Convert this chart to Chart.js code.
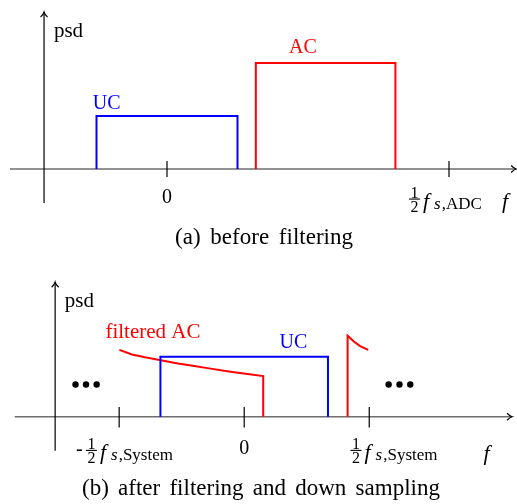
<!DOCTYPE html>
<html>
<head>
<meta charset="utf-8">
<script src="https://cdn.jsdelivr.net/npm/chart.js@4.4.1/dist/chart.umd.min.js"></script>
<style>
  html, body { margin: 0; padding: 0; background: #fff; }
  #wrap { position: relative; width: 517px; height: 504px; }
  canvas { position: absolute; left: 0; }
</style>
</head>
<body>
<div id="wrap">
  <canvas id="before" width="517" height="250" style="top:0"></canvas>
  <canvas id="after" width="517" height="254" style="top:250px"></canvas>
</div>
<script>
// x is in units of fs/2, y in units of the UC level

// (a) before filtering
const ucBeforeX = [-0.25, -0.25, 0.25, 0.25];
const ucBeforeY = [0, 1, 1, 0];
const acBeforeX = [0.315, 0.315, 0.81, 0.81];
const acBeforeY = [0, 2, 2, 0];
const ticksBefore = [0, 1];
const tickLabelsBefore = ["0", "1/2 f_s,ADC"];

// (b) after filtering and down sampling
const ucAfterX = [-0.67, -0.67, 0.67, 0.67];
const ucAfterY = [0, 1, 1, 0];
const acAfterX = [-0.998, -0.898, -0.793, -0.667, -0.53, -0.399, -0.268, -0.136, -0.005, 0.152, 0.152];
const acAfterY = [1.113, 1.037, 0.989, 0.941, 0.887, 0.844, 0.801, 0.758, 0.721, 0.677, 0];
const aliasX = [0.827, 0.827, 0.848, 0.874, 0.927, 0.992];
const aliasY = [0, 1.35, 1.31, 1.258, 1.177, 1.113];
const dotsX = [-1.349, -1.265, -1.18, 1.155, 1.242, 1.328];
const dotsY = [0.537, 0.537, 0.537, 0.537, 0.537, 0.537];
const ticksAfter = [-1, 0, 1];
const tickLabelsAfter = ["-1/2 f_s,System", "0", "1/2 f_s,System"];

const SERIF = '"Liberation Serif", "Times New Roman", serif';
const BLUE = "#0000ff";
const RED = "#ff0000";

function toPoints(xs, ys) {
    return xs.map((x, i) => ({ x: x, y: ys[i] }));
}

function lineSet(xs, ys, color) {
    return {
        data: toPoints(xs, ys),
        showLine: true,
        borderColor: color,
        borderWidth: 2,
        pointRadius: 0,
        tension: 0,
        borderJoinStyle: "miter",
        fill: false,
    };
}

function arrowHead(ctx, x, y, dir) {
    ctx.beginPath();
    if (dir === "up") {
        ctx.moveTo(x - 3.5, y + 5);
        ctx.quadraticCurveTo(x - 0.5, y + 2, x, y);
        ctx.quadraticCurveTo(x + 0.5, y + 2, x + 3.5, y + 5);
    } else {
        ctx.moveTo(x - 5, y - 3.5);
        ctx.quadraticCurveTo(x - 2, y - 0.5, x, y);
        ctx.quadraticCurveTo(x - 2, y + 0.5, x - 5, y + 3.5);
    }
    ctx.stroke();
}

// "1/2 f_s,ADC" style label: x = left edge, y = fraction bar
function drawHalfLabel(ctx, text, x, y) {
    let cx = x;
    ctx.textAlign = "left";
    ctx.textBaseline = "alphabetic";
    if (text[0] === "-") {
        ctx.font = "20px " + SERIF;
        ctx.fillText("-", cx, y + 5);
        cx += 10;
    }
    ctx.font = "16px " + SERIF;
    ctx.textAlign = "center";
    ctx.fillText("1", cx + 5.5, y - 1.5);
    ctx.fillText("2", cx + 5.5, y + 13);
    ctx.fillRect(cx, y - 0.5, 11, 1.1);
    ctx.textAlign = "left";
    cx += 14;
    const sub = text.split("_")[1];
    ctx.font = "italic 22px " + SERIF;
    ctx.fillText("f", cx, y + 9);
    cx += ctx.measureText("f").width + 5;
    ctx.font = "italic 17px " + SERIF;
    ctx.fillText(sub[0], cx, y + 10);
    cx += ctx.measureText(sub[0]).width + 1;
    ctx.font = "17px " + SERIF;
    ctx.fillText(sub.slice(1), cx, y + 10);
}

const sketch = {
    id: "sketch",
    beforeDatasetsDraw(chart, args, o) {
        const ctx = chart.ctx;
        const X = v => chart.scales.x.getPixelForValue(v);
        const Y = v => chart.scales.y.getPixelForValue(v);
        ctx.save();
        // f axis
        ctx.strokeStyle = "#6e6e6e";
        ctx.lineWidth = 1.6;
        ctx.beginPath();
        ctx.moveTo(X(o.fAxis[0]), Y(0));
        ctx.lineTo(X(o.fAxis[1]), Y(0));
        ctx.stroke();
        ctx.strokeStyle = "#000";
        ctx.lineWidth = 1.2;
        arrowHead(ctx, X(o.fAxis[1]), Y(0), "right");
        // psd axis
        ctx.beginPath();
        ctx.moveTo(X(o.psdAxis[0]), Y(o.psdAxis[1]));
        ctx.lineTo(X(o.psdAxis[0]), Y(o.psdAxis[2]));
        ctx.stroke();
        arrowHead(ctx, X(o.psdAxis[0]), Y(o.psdAxis[2]), "up");
        // tick marks
        o.ticks.forEach(t => {
            ctx.beginPath();
            ctx.moveTo(X(t), Y(o.tickSpan[0]));
            ctx.lineTo(X(t), Y(o.tickSpan[1]));
            ctx.stroke();
        });
        ctx.restore();
    },
    afterDatasetsDraw(chart, args, o) {
        const ctx = chart.ctx;
        const X = v => chart.scales.x.getPixelForValue(v);
        const Y = v => chart.scales.y.getPixelForValue(v);
        ctx.save();
        ctx.fillStyle = "#000";
        o.tickLabels.forEach((lab, i) => {
            const p = o.tickLabelPos[i];
            if (lab.indexOf("1/2") >= 0) {
                drawHalfLabel(ctx, lab, X(p[0]), Y(p[1]));
            } else {
                ctx.font = "20px " + SERIF;
                ctx.textAlign = "center";
                ctx.textBaseline = "alphabetic";
                ctx.fillText(lab, X(p[0]), Y(p[1]));
            }
        });
        o.texts.forEach(t => {
            ctx.font = (t.italic ? "italic " : "") + (t.size || 20) + "px " + SERIF;
            ctx.fillStyle = t.color || "#000";
            ctx.textAlign = t.align || "left";
            ctx.textBaseline = "alphabetic";
            ctx.wordSpacing = (t.spacing || 0) + "px";
            ctx.fillText(t.text, X(t.x), Y(t.y));
        });
        ctx.restore();
    },
};

function baseOptions(xr, yr, sketchOpts) {
    return {
        responsive: false,
        animation: false,
        events: [],
        layout: { padding: 0 },
        scales: {
            x: { type: "linear", display: false, min: xr[0], max: xr[1] },
            y: { type: "linear", display: false, min: yr[0], max: yr[1] },
        },
        plugins: {
            legend: { display: false },
            tooltip: { enabled: false },
            sketch: sketchOpts,
        },
    };
}

new Chart(document.getElementById("before"), {
    type: "scatter",
    data: {
        datasets: [
            lineSet(ucBeforeX, ucBeforeY, BLUE),
            lineSet(acBeforeX, acBeforeY, RED),
        ],
    },
    options: baseOptions([-0.5922, 1.2411], [-1.528, 3.189], {
        fAxis: [-0.557, 1.238],
        psdAxis: [-0.436, -0.64, 2.96],
        ticks: ticksBefore,
        tickSpan: [0.15, -0.15],
        tickLabels: tickLabelsBefore,
        tickLabelPos: [[0, -0.642], [0.858, -0.566]],
        texts: [
            { text: "psd", x: -0.401, y: 2.496, size: 21 },
            { text: "AC", x: 0.4326, y: 2.189, color: RED },
            { text: "UC", x: -0.2635, y: 1.132, color: BLUE },
            { text: "f", x: 1.188, y: -0.736, italic: true, size: 22 },
            { text: "(a) before filtering", x: 0.344, y: -1.415, align: "center", size: 23, spacing: 4 },
        ],
    }),
    plugins: [sketch],
});

new Chart(document.getElementById("after"), {
    type: "scatter",
    data: {
        datasets: [
            lineSet(ucAfterX, ucAfterY, BLUE),
            lineSet(acAfterX, acAfterY, RED),
            lineSet(aliasX, aliasY, RED),
            {
                data: toPoints(dotsX, dotsY),
                showLine: false,
                pointRadius: 3.2,
                pointBorderWidth: 0,
                backgroundColor: "#000",
                borderColor: "#000",
            },
        ],
    },
    options: baseOptions([-1.921, 2.1496], [-1.387, 2.71], {
        fAxis: [-1.835, 2.142],
        psdAxis: [-1.512, -0.565, 2.24],
        ticks: ticksAfter,
        tickSpan: [0.16, -0.18],
        tickLabels: tickLabelsAfter,
        tickLabelPos: [[-1.346, -0.56], [0, -0.629], [0.85, -0.56]],
        texts: [
            { text: "psd", x: -1.435, y: 1.834, size: 21 },
            { text: "filtered AC", x: -1.11, y: 1.306, color: RED, size: 21 },
            { text: "UC", x: 0.283, y: 1.15, color: BLUE },
            { text: "f", x: 1.913, y: -0.726, italic: true, size: 22 },
            { text: "(b) after filtering and down sampling", x: 0.134, y: -1.306, align: "center", size: 23, spacing: 3.5 },
        ],
    }),
    plugins: [sketch],
});
</script>
</body>
</html>
